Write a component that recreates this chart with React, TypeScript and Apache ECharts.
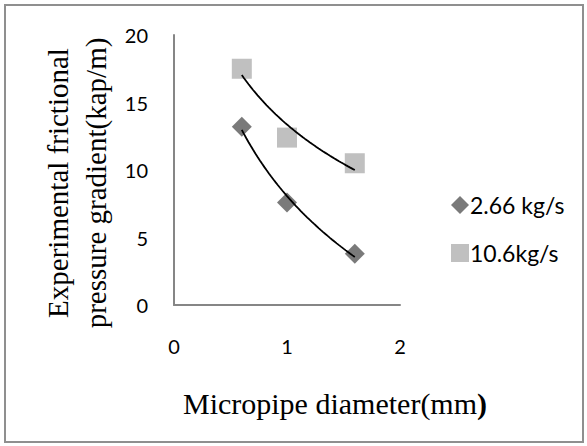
import React, { useEffect, useRef } from "react";
import * as echarts from "echarts";

const diameters = [0.6, 1.0, 1.6];
const flow266 = [13.2, 7.6, 3.8];
const flow106 = [17.5, 12.4, 10.5];
const seriesNames = ["2.66 kg/s", "10.6kg/s"];
const xTicks = { min: 0, max: 2, interval: 1 };
const yTicks = { min: 0, max: 20, interval: 5 };

// logarithmic trendline (like a spreadsheet's log trendline) fitted to the data
function logTrend(xs: number[], ys: number[]) {
  const lx = xs.map((x) => Math.log(x));
  const n = xs.length;
  const mx = lx.reduce((a, b) => a + b, 0) / n;
  const my = ys.reduce((a, b) => a + b, 0) / n;
  let sxy = 0;
  let sxx = 0;
  for (let i = 0; i < n; i++) {
    sxy += (lx[i] - mx) * (ys[i] - my);
    sxx += (lx[i] - mx) * (lx[i] - mx);
  }
  const b = sxy / sxx;
  const a = my - b * mx;
  const x0 = Math.min(...xs);
  const x1 = Math.max(...xs);
  const pts: number[][] = [];
  const steps = 50;
  for (let i = 0; i <= steps; i++) {
    const x = x0 + ((x1 - x0) * i) / steps;
    pts.push([x, a + b * Math.log(x)]);
  }
  return pts;
}

export default function App() {
  const ref = useRef<HTMLDivElement>(null);
  useEffect(() => {
    if (!ref.current) return;
    const chart = echarts.init(ref.current, undefined, { renderer: "svg" });
    const serif = "'Liberation Serif', 'Times New Roman', serif";
    const sans = "Lato, 'Noto Sans', sans-serif";
    chart.setOption({
      animation: false,
      backgroundColor: "#ffffff",
      grid: { left: 174, top: 35, width: 226, height: 270, containLabel: false },
      xAxis: {
        type: "value",
        min: xTicks.min,
        max: xTicks.max,
        interval: xTicks.interval,
        axisLine: { show: true, lineStyle: { color: "#868686", width: 2 } },
        axisTick: { show: false },
        splitLine: { show: false },
        axisLabel: { color: "#000", fontFamily: sans, fontSize: 20, margin: 31 },
      },
      yAxis: {
        type: "value",
        min: yTicks.min,
        max: yTicks.max,
        interval: yTicks.interval,
        axisLine: { show: true, lineStyle: { color: "#868686", width: 2 } },
        axisTick: { show: false },
        splitLine: { show: false },
        axisLabel: { color: "#000", fontFamily: sans, fontSize: 20, margin: 26 },
      },
      legend: {
        orient: "vertical",
        left: 446,
        top: 188,
        itemWidth: 18,
        itemHeight: 18,
        itemGap: 24,
        textStyle: { color: "#000", fontFamily: sans, fontSize: 23, lineHeight: 24, padding: [0, 0, 0, -4] },
        data: [
          { name: seriesNames[0], icon: "diamond" },
          { name: seriesNames[1], icon: "rect" },
        ],
      },
      series: [
        {
          name: seriesNames[0],
          type: "scatter",
          symbol: "diamond",
          symbolSize: 20,
          itemStyle: { color: "#595959" },
          data: diameters.map((x, i) => [x, flow266[i]]),
          z: 2,
        },
        {
          name: seriesNames[1],
          type: "scatter",
          symbol: "rect",
          symbolSize: 20,
          itemStyle: { color: "#b0b0b0" },
          data: diameters.map((x, i) => [x, flow106[i]]),
          z: 2,
        },
        {
          name: "trend266",
          type: "line",
          showSymbol: false,
          silent: true,
          lineStyle: { color: "#000", width: 1.8 },
          data: logTrend(diameters, flow266),
          z: 3,
        },
        {
          name: "trend106",
          type: "line",
          showSymbol: false,
          silent: true,
          lineStyle: { color: "#000", width: 1.8 },
          data: logTrend(diameters, flow106),
          z: 3,
        },
      ],
      graphic: [
        {
          type: "rect",
          shape: { x: 5, y: 5, width: 578, height: 437 },
          style: { fill: "none", stroke: "#8f8f8f", lineWidth: 2 },
          silent: true,
        },
        {
          type: "text",
          x: 335,
          y: 403,
          style: {
            text: "Micropipe diameter(mm{b|)}",
            fontFamily: serif,
            fontSize: 30,
            fill: "#000",
            align: "center",
            verticalAlign: "middle",
            rich: { b: { fontFamily: serif, fontSize: 30, fontWeight: "bold", fill: "#000" } },
          },
        },
        {
          type: "text",
          x: 77,
          y: 183,
          rotation: Math.PI / 2,
          style: {
            text: "Experimental frictional\npressure gradient(kap/m)",
            fontFamily: serif,
            fontSize: 29,
            lineHeight: 38,
            fill: "#000",
            align: "center",
            verticalAlign: "middle",
          },
        },
      ],
    });
    return () => chart.dispose();
  }, []);
  return (
    <div
      ref={ref}
      style={{ position: "absolute", left: 0, top: 0, width: 587, height: 446 }}
    />
  );
}
